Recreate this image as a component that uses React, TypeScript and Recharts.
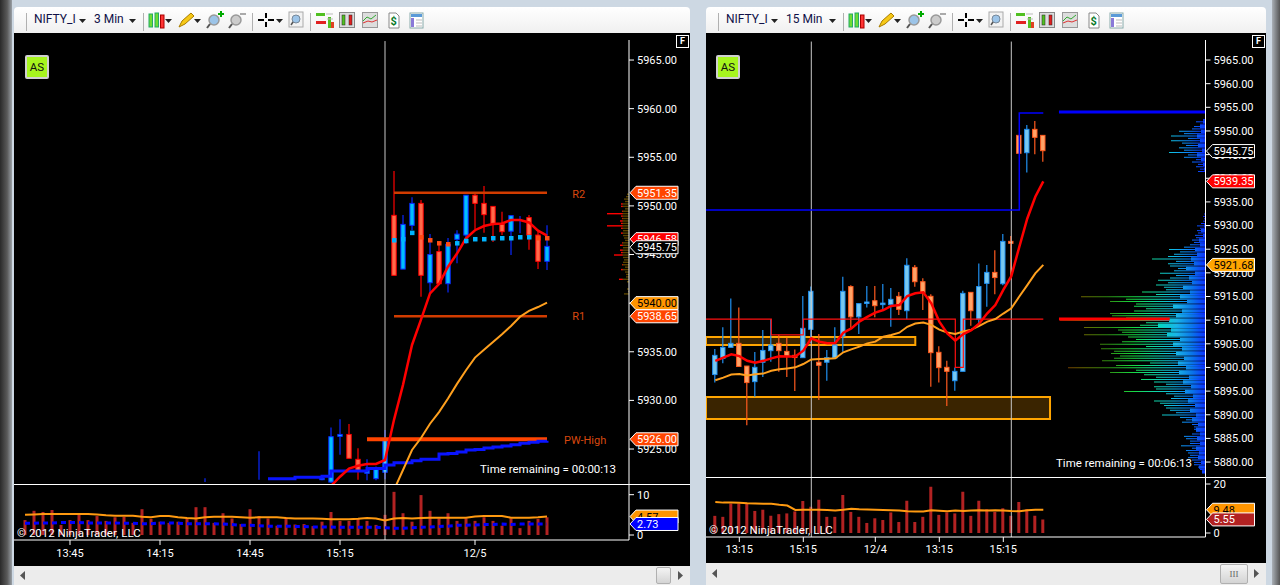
import {
  Bar,
  BarChart,
  ComposedChart,
  Line,
  ReferenceArea,
  ReferenceDot,
  ReferenceLine,
  XAxis,
  YAxis,
} from 'recharts'

const FONT = 'Roboto, sans-serif'

// ---- left panel, 3 min ----
const leftCandleIdx = [20, 26, 33, 34, 35, 36, 37, 38, 39, 40, 41, 42, 43, 44, 45, 46, 47, 48, 49, 50, 51, 52, 53, 54, 55, 56, 57, 58]
const leftOpen = [5921.8, 5921.9, 5921.9, 5921.6, 5926.3, 5926.5, 5923.94, 5922.5, 5921.95, 5922.6, 5949.03, 5943.5, 5948, 5950.26, 5942.1, 5945.3, 5942, 5946.56, 5947, 5951.1, 5950.26, 5949.95, 5948.1, 5947.4, 5948.6, 5948.8, 5947, 5944.3]
const leftClose = [5921.85, 5921.95, 5922, 5926.27, 5926.5, 5924.04, 5922.7, 5922.8, 5923, 5925.9, 5942.86, 5948.1, 5950.26, 5942.86, 5945, 5942, 5946.05, 5947.1, 5951.1, 5950.26, 5949.1, 5948.1, 5947.35, 5949, 5948.65, 5947, 5944.3, 5945.84]
const leftHigh = [5922, 5924.76, 5922.05, 5927.2, 5928.05, 5927.57, 5925.07, 5923.94, 5923.2, 5926.95, 5953.6, 5949.06, 5950.9, 5950.6, 5947.1, 5946.1, 5946.7, 5947.5, 5951.1, 5951.3, 5952.05, 5949.95, 5949.4, 5949, 5948.96, 5949.06, 5947.35, 5948]
const leftLow = [5921.6, 5921.85, 5921.8, 5921.5, 5924.4, 5924.04, 5921.85, 5921.8, 5921.8, 5921.9, 5942.86, 5943.5, 5947.5, 5940.66, 5941, 5942, 5941.1, 5944.1, 5946.1, 5947.6, 5947.25, 5946.3, 5947, 5944.95, 5947.2, 5945.5, 5943.5, 5943.4]

const leftFastStart = 34
const leftFast = [5921.2, 5922.15, 5922.98, 5923.28, 5923.46, 5923.46, 5923.87, 5928, 5931.6, 5935.7, 5938.3, 5941, 5941.97, 5943.75, 5945.1, 5946.66, 5947.5, 5947.93, 5948.14, 5948.2, 5948.55, 5948.55, 5948.3, 5947.45, 5946.94]
const leftSlowStart = 41
const leftSlow = [5920.8, 5922.84, 5924.9, 5926.13, 5927.6, 5928.8, 5930.2, 5931.7, 5933.1, 5934.4, 5935.2, 5936, 5936.8, 5937.65, 5938.6, 5939.2, 5939.6, 5940.06]
const leftBaseStart = 27
const leftBase = [5921.95, 5921.95, 5921.95, 5922.1, 5922.1, 5922.1, 5922.2, 5922.74, 5922.74, 5922.74, 5922.74, 5923, 5923, 5923.35, 5923.6, 5923.6, 5923.8, 5923.94, 5923.94, 5924.5, 5924.55, 5924.7, 5924.9, 5924.95, 5925.1, 5925.2, 5925.3, 5925.45, 5925.6, 5925.7, 5925.8, 5925.85]
const leftDotStart = 41
const leftDot = [5946.49, 5946.6, 5947.25, 5946.8, 5946.49, 5946.18, 5946.08, 5946.18, 5946.42, 5946.6, 5946.6, 5946.7, 5946.7, 5946.7, 5946.8, 5946.8, 5946.7, 5946.7]
const leftDotTrend = ['u', 'u', 'u', 'd', 'd', 'd', 'd', 'u', 'u', 'u', 'u', 'u', 'u', 'u', 'u', 'u', 'd', 'd']

const leftVolume = [3.7, 6, 5.7, 6.2, 2.5, 3.7, 5, 3.7, 4.7, 3.5, 4.4, 4.5, 3, 6.4, 4, 3.3, 3, 3.3, 4.1, 6.9, 6.9, 3, 5.4, 4.1, 2.7, 6.4, 4.7, 4.1, 2.3, 4.4, 2.6, 2.7, 2.2, 3.3, 5.7, 3.5, 3.5, 4.1, 3.5, 2.5, 5, 10.7, 5.4, 3.3, 9.9, 6, 4.1, 5.4, 3.5, 4.1, 3.5, 4.4, 3.5, 2.3, 4.1, 1.7, 3.5, 4, 4.4]
const leftVolSlow = [5, 5.1, 5.2, 5.2, 5.2, 5.2, 5.2, 5.2, 5.1, 4.9, 4.8, 4.8, 4.8, 4.5, 4.4, 4.7, 4.7, 4.4, 4.2, 4.1, 4.4, 4.5, 4.5, 4.5, 4.4, 4.3, 4.4, 4.4, 4.4, 4.2, 4.1, 4.1, 4.1, 4, 3.9, 3.9, 3.9, 4, 4.2, 4.1, 3.6, 4.1, 4.2, 4.1, 4.2, 4.3, 4.3, 4.3, 4.3, 4.3, 4.6, 4.7, 4.7, 4.7, 4.3, 4.3, 4.3, 4.4, 4.57]
const leftVolFast = [2.9, 2.9, 3, 3, 3.1, 3.1, 3.1, 3, 3, 3, 3, 2.9, 2.9, 2.8, 2.8, 3, 3, 2.9, 2.8, 2.8, 2.8, 2.8, 2.7, 2.6, 2.4, 2.4, 2.3, 2.2, 2.2, 2.2, 2.1, 2.1, 2, 2, 2, 1.9, 1.9, 1.9, 1.9, 1.9, 1.8, 1.7, 1.7, 1.8, 1.9, 2, 2.1, 2.2, 2.4, 2.4, 2.5, 2.6, 2.6, 2.7, 2.6, 2.7, 2.7, 2.7, 2.73]

const leftPriceTicks = [5965, 5960, 5955, 5950, 5945, 5940, 5935, 5930, 5925]
const leftTimeTicks = [5, 15, 25, 35, 50]
const leftTimeLabels = ['13:45', '14:15', '14:45', '15:15', '12/5']
const leftMiniPrices = [5951.25, 5951, 5950.75, 5950.5, 5950.25, 5950, 5949.75, 5949.5, 5949.25, 5949, 5948.75, 5948.5, 5948.25, 5948, 5947.75, 5947.5, 5947.25, 5947, 5946.75, 5946.5, 5946.25, 5946, 5945.75, 5945.5, 5945.25, 5945, 5944.75, 5944.5, 5944.25, 5944, 5943.75, 5943.5, 5943.25, 5943, 5942.75, 5942.5, 5942.25, 5942, 5941.75, 5941.5, 5941.25, 5941]
const leftMiniSize = [2, 3, 5, 4, 8, 8, 4, 7, 22, 8, 7, 9, 8, 22, 8, 6, 8, 6, 5, 4, 7, 9, 6, 9, 8, 15, 6, 5, 6, 7, 4, 8, 4, 3, 3, 10, 2, 0, 0, 2, 1, 5]

// ---- right panel, 15 min ----
const rightOpen = [5898.5, 5901.9, 5904.25, 5905.1, 5900.3, 5897, 5901.1, 5903.55, 5905.1, 5903.4, 5902.56, 5902.07, 5908.06, 5901.1, 5901.1, 5902, 5906.65, 5917.1, 5910.7, 5913.56, 5914.1, 5913.5, 5913.27, 5915.03, 5912, 5921.16, 5918.13, 5915.04, 5903.2, 5900.03, 5897.2, 5899.18, 5915.88, 5910.2, 5917.78, 5920.1, 5917.7, 5926.66, 5949.07, 5945.4, 5950.34, 5949.07]
const rightClose = [5902.56, 5904.25, 5905.1, 5900.2, 5896.8, 5900.03, 5903.6, 5904.75, 5903.55, 5902.4, 5902.1, 5908.27, 5916.1, 5900.45, 5902.07, 5904.75, 5916.1, 5910.7, 5913.5, 5913.84, 5913.06, 5913.6, 5914.4, 5912.28, 5921.6, 5918.13, 5915.8, 5903.13, 5899.96, 5899.18, 5899.18, 5915.67, 5912, 5917.1, 5920.1, 5919, 5926.66, 5926.24, 5945.27, 5950.34, 5948.65, 5945.83]
const rightHigh = [5903.9, 5908.5, 5914.6, 5912.7, 5900.3, 5903.27, 5907.9, 5910.2, 5906.9, 5906.3, 5903.8, 5915.1, 5917.1, 5907.1, 5903.7, 5908.5, 5919.2, 5917.4, 5913.5, 5917.2, 5917.2, 5917.64, 5916.8, 5915.95, 5923.1, 5921.66, 5918.84, 5915.5, 5904.5, 5901.4, 5900, 5916.2, 5915.88, 5922, 5921.66, 5924.8, 5928.2, 5927.8, 5949.07, 5951.25, 5952.1, 5949.07]
const rightLow = [5896.8, 5900.9, 5904.25, 5900.2, 5887.8, 5893.8, 5898, 5901.2, 5899.1, 5898, 5895, 5902.07, 5905.1, 5893.1, 5897.2, 5902, 5903.3, 5908.27, 5907.1, 5912.7, 5910.6, 5912.28, 5908.6, 5911.1, 5910.2, 5917.08, 5912.14, 5895.94, 5896.8, 5891.85, 5895.1, 5899.18, 5908.83, 5909, 5912.85, 5915.5, 5917.4, 5919.2, 5945.27, 5941.2, 5945.1, 5943.5]
const rightFast = [5901.4, 5902.07, 5902.77, 5902.4, 5901.4, 5901, 5901.4, 5901.93, 5902.35, 5902.3, 5902.3, 5903.55, 5906.16, 5905.45, 5905.1, 5905.17, 5907.35, 5908.27, 5909.7, 5910.7, 5911.6, 5912.14, 5913, 5913.2, 5915.1, 5915.67, 5915.88, 5913.56, 5909.7, 5907.2, 5905.67, 5907.07, 5907.9, 5909.3, 5911.44, 5913.2, 5916.4, 5919.3, 5925.5, 5931.5, 5936.1, 5939.35]
const rightSlow = [5897.3, 5897.84, 5898.5, 5898.6, 5898.3, 5898.55, 5898.7, 5899.3, 5899.6, 5899.8, 5900.03, 5900.73, 5901.7, 5901.8, 5901.86, 5901.93, 5903.2, 5903.83, 5904.4, 5905.1, 5905.45, 5906.5, 5906.86, 5907.35, 5908.6, 5909.3, 5909.5, 5909, 5908, 5907.4, 5907.07, 5907.6, 5908, 5908.8, 5909.7, 5910.24, 5911.4, 5912.5, 5915, 5917.4, 5919.9, 5921.68]
const rightVolume = [7, 6.6, 12, 12, 12, 9, 9.5, 7, 7.7, 8, 8.8, 13.1, 10.7, 13.6, 6.6, 6.6, 15.5, 8.6, 6.6, 4.1, 6, 5.3, 8.4, 4.5, 13.2, 4.5, 6.6, 18.9, 7.4, 8.4, 8, 16.8, 7, 13.2, 9.7, 8.6, 10.1, 7, 12.7, 9.7, 7, 5.55]
const rightVolSlow = [12.7, 12.4, 12.4, 12.3, 12.1, 12, 11.9, 11.9, 11.5, 11.2, 9.4, 9.5, 9.5, 9.5, 9.4, 9.2, 9.5, 9.9, 9.7, 9.6, 9.5, 9.4, 9.3, 9.2, 8.9, 8.8, 8.8, 9.3, 9.1, 8.9, 9.2, 9, 9.2, 9.3, 9.2, 9.3, 9.2, 9, 8.9, 9.3, 9.48, 9.48]
const rightSwingIdx = [-1.17, 38, 41]
const rightSwingHigh = [5933.3, 5953.8, 5953.8]
const rightPivotIdx = [-1.17, 7, 11, 30, 31, 41]
const rightPivot = [5910.2, 5906.9, 5910.2, 5900, 5910.2, 5910.2]
const rightPriceTicks = [5965, 5960, 5955, 5950, 5945, 5940, 5935, 5930, 5925, 5920, 5915, 5910, 5905, 5900, 5895, 5890, 5885, 5880]
const rightTimeTicks = [3, 11, 20, 28, 36]
const rightTimeLabels = ['13:15', '15:15', '12/4', '13:15', '15:15']

// volume at price, one row per half point from 5953 down to 5878
const profileSize = [
  0, 3, 10, 6, 12, 14, 27, 22, 35, 18, 35, 24, 20, 27, 22, 37, 18, 22, 10, 14, 8, 10, 6, 8, 0,
  0, 0, 0, 0, 0, 0, 0, 0, 0, 0, 0, 0, 0, 0, 0, 0,
  2, 3, 2, 3, 5, 9, 6, 9, 8, 11, 10, 14, 12, 16, 22, 37, 26, 32, 38, 54, 30, 38, 36, 28, 32, 46, 30, 36, 48, 38, 50, 42, 40, 64, 50,
  125, 80, 96, 70, 72, 60, 72, 96, 94, 80, 146, 60, 66, 122, 88, 84, 122, 78, 70, 84, 106, 60, 105, 92, 95, 86, 92, 104, 56, 90, 138,
  70, 96, 62, 50, 65, 52, 40, 52, 50, 82, 40, 32, 35, 52, 46, 42, 40, 36, 30, 44, 26, 20, 24, 14, 12, 12, 10, 14, 22, 20, 16, 16, 25, 14, 20, 18, 16, 18, 14, 12, 12, 8, 6, 4,
]
// solid core of the profile, one row per point from 5953 down to 5878
const profileCore = [
  0, 3, 6, 5, 9, 6, 8, 4, 9, 5, 3, 2, 0, 0, 0, 0, 0, 0, 0, 0, 0, 0, 1, 2, 5, 3, 7, 6, 11, 9, 15, 12, 20, 11, 17, 14, 23, 16, 26, 19, 33, 24, 30, 37, 48, 35, 39, 26, 33, 24, 30, 22, 28, 20, 27, 17, 23, 15, 21, 13, 18, 11, 16, 10, 14, 8, 10, 6, 9, 6, 10, 7, 8, 5, 7, 4,
]

const LEFT_X: [number, number] = [-1.222, 67.11]
const LEFT_Y: [number, number] = [5921.3, 5967.78]
const RIGHT_X: [number, number] = [-1.1625, 61.275]
const RIGHT_Y: [number, number] = [5876.63, 5970.71]
const LEFT_VOL_Y: [number, number] = [-1.24, 12.4]
const RIGHT_VOL_Y: [number, number] = [-1.63, 22.45]

const leftRows = leftVolume.map((volume, i) => {
  const c = leftCandleIdx.indexOf(i)
  return {
    i,
    volume,
    volSlow: leftVolSlow[i],
    volFast: leftVolFast[i],
    open: c < 0 ? null : leftOpen[c],
    close: c < 0 ? null : leftClose[c],
    high: c < 0 ? null : leftHigh[c],
    low: c < 0 ? null : leftLow[c],
    range: c < 0 ? null : [leftLow[c], leftHigh[c]],
    fast: leftFast[i - leftFastStart] ?? null,
    slow: leftSlow[i - leftSlowStart] ?? null,
    base: leftBase[i - leftBaseStart] ?? null,
    dot: leftDot[i - leftDotStart] ?? null,
    trend: leftDotTrend[i - leftDotStart] ?? null,
  }
})

const rightRows = rightVolume.map((volume, i) => ({
  i,
  volume,
  volSlow: rightVolSlow[i],
  open: rightOpen[i],
  close: rightClose[i],
  high: rightHigh[i],
  low: rightLow[i],
  range: [rightLow[i], rightHigh[i]],
  fast: rightFast[i],
  slow: rightSlow[i],
}))

const swingRows = rightSwingIdx.map((i, n) => ({ i, v: rightSwingHigh[n] }))
const pivotRows = rightPivotIdx.map((i, n) => ({ i, v: rightPivot[n] }))
const miniRows = leftMiniPrices.map((price, n) => ({ price, size: leftMiniSize[n] }))
const profileRows = profileSize.map((size, n) => ({ price: 5953 - n * 0.5, size }))
const coreRows = profileCore.map((size, n) => ({ price: 5953 - n, size }))

const LEFT_CANDLE = { up: '#00bfff', upLine: '#0a28ff', down: '#ff6a4a', downLine: '#ff0000' }
const RIGHT_CANDLE = { up: '#78c8f0', upLine: '#2090f0', down: '#ffa468', downLine: '#ff5a1e' }

function candleShape(colors: typeof LEFT_CANDLE) {
  return (props: any) => {
    const { x, y, width, height, payload } = props
    if (payload.open == null || height == null) return <g />
    const cx = x + width / 2
    const span = payload.high - payload.low || 1
    const toY = (v: number) => y + ((payload.high - v) / span) * height
    const up = payload.close >= payload.open
    const top = toY(Math.max(payload.open, payload.close))
    const bottom = toY(Math.min(payload.open, payload.close))
    const line = up ? colors.upLine : colors.downLine
    return (
      <g>
        <line x1={cx} x2={cx} y1={y} y2={y + height} stroke={line} strokeWidth={1.2} />
        {/* the oldest bars have no body worth drawing, only a wick */}
        {Math.abs(payload.close - payload.open) >= 0.08 && (
          <rect
            x={cx - 2.2}
            y={top}
            width={4.4}
            height={Math.max(bottom - top, 1.5)}
            fill={up ? colors.up : colors.down}
            stroke={line}
            strokeWidth={1}
          />
        )}
      </g>
    )
  }
}

function PriceTag({ cx, cy, value, fill, color, border = '#fff' }: any) {
  const x = cx + 1
  const w = 48
  return (
    <g>
      <path
        d={`M${x} ${cy} L${x + 6} ${cy - 6.5} L${x + w} ${cy - 6.5} L${x + w} ${cy + 6.5} L${x + 6} ${cy + 6.5} Z`}
        fill={fill}
        stroke={border}
        strokeWidth={1}
      />
      <text x={x + 7} y={cy + 4} fontSize={11} fontFamily={FONT} fill={color}>
        {value}
      </text>
    </g>
  )
}

function tag(xEnd: number, price: number, fill: string, color: string) {
  return (
    <ReferenceDot
      key={`${price}-${fill}`}
      x={xEnd}
      y={price}
      ifOverflow="visible"
      shape={(p: any) => <PriceTag {...p} value={price.toFixed(2)} fill={fill} color={color} />}
    />
  )
}

function note(x: number, price: number, text: string) {
  return (
    <ReferenceDot
      x={x}
      y={price}
      ifOverflow="visible"
      shape={(p: any) => (
        <text x={p.cx} y={p.cy + 4} fontSize={11} fontFamily={FONT} fill="#d9480f">
          {text}
        </text>
      )}
    />
  )
}

// tags sit in their own layer so they cover the tick labels, like the original
function TagLayer({ width, height, axisWidth, bottom = 0, xDomain, yDomain, children }: any) {
  return (
    <ComposedChart width={width} height={height} data={[{ i: 0 }]} margin={{ top: 0, right: axisWidth, bottom, left: 0 }}>
      <XAxis type="number" dataKey="i" domain={xDomain} allowDataOverflow hide />
      <YAxis type="number" domain={yDomain} allowDataOverflow hide />
      {children}
    </ComposedChart>
  )
}

const axisTick = { fill: '#fff', fontSize: 11, fontFamily: FONT }
const whiteLine = { stroke: '#fff' }

function LeftPrice() {
  return (
    <ComposedChart width={676} height={452} data={leftRows} margin={{ top: 0, right: 0, bottom: 0, left: 0 }}>
      <XAxis type="number" dataKey="i" domain={LEFT_X} allowDataOverflow hide />
      <YAxis
        orientation="right"
        width={61}
        type="number"
        domain={LEFT_Y}
        allowDataOverflow
        ticks={leftPriceTicks}
        tickFormatter={(v: number) => v.toFixed(2)}
        tick={axisTick}
        tickSize={5}
        tickMargin={3}
        axisLine={whiteLine}
        tickLine={whiteLine}
      />
      <ReferenceLine segment={[{ x: 40, y: 5966.95 }, { x: 40, y: LEFT_Y[0] }]} stroke="#c8c8c8" />
      <ReferenceLine segment={[{ x: 41, y: 5951.35 }, { x: 58, y: 5951.35 }]} stroke="#d23c00" strokeWidth={2.5} />
      <ReferenceLine segment={[{ x: 41, y: 5938.65 }, { x: 58, y: 5938.65 }]} stroke="#d23c00" strokeWidth={2.5} />
      <ReferenceLine segment={[{ x: 38, y: 5926 }, { x: 58, y: 5926 }]} stroke="#ff4500" strokeWidth={4} />
      <Line dataKey="base" type="stepAfter" stroke="#0a14ff" strokeWidth={3} dot={false} isAnimationActive={false} />
      <Bar dataKey="range" barSize={5} shape={candleShape(LEFT_CANDLE)} isAnimationActive={false} />
      <Line
        dataKey="dot"
        stroke="none"
        isAnimationActive={false}
        dot={(p: any) =>
          p.value == null ? (
            <g key={p.index} />
          ) : (
            <rect key={p.index} x={p.cx - 2} y={p.cy - 2} width={4.5} height={4.5} fill={p.payload.trend === 'u' ? '#00b4ff' : '#ff4b14'} />
          )
        }
      />
      <Line dataKey="fast" stroke="#ff0000" strokeWidth={2.5} dot={false} isAnimationActive={false} />
      <Line dataKey="slow" stroke="#ffa01e" strokeWidth={2} dot={false} isAnimationActive={false} />
      {note(60.8, 5951.2, 'R2')}
      {note(60.8, 5938.65, 'R1')}
      {note(59.9, 5925.9, 'PW-High')}
    </ComposedChart>
  )
}

function LeftVolume() {
  return (
    <ComposedChart width={676} height={80} data={leftRows} margin={{ top: 0, right: 0, bottom: 0, left: 0 }}>
      <XAxis
        type="number"
        dataKey="i"
        domain={LEFT_X}
        allowDataOverflow
        height={25}
        ticks={leftTimeTicks}
        tickFormatter={(v: number) => leftTimeLabels[leftTimeTicks.indexOf(v)]}
        tick={axisTick}
        tickSize={5}
        tickMargin={4}
        axisLine={whiteLine}
        tickLine={whiteLine}
      />
      <YAxis
        orientation="right"
        width={61}
        type="number"
        domain={LEFT_VOL_Y}
        allowDataOverflow
        ticks={[0, 10]}
        tick={axisTick}
        tickSize={5}
        tickMargin={3}
        axisLine={whiteLine}
        tickLine={whiteLine}
      />
      <ReferenceLine x={40} stroke="#c8c8c8" />
      <Bar dataKey="volume" barSize={3} fill="#b22222" isAnimationActive={false} />
      <Line dataKey="volFast" stroke="#0000ff" strokeWidth={3} strokeDasharray="5 4" dot={false} isAnimationActive={false} />
      <Line dataKey="volSlow" stroke="#ff9a10" strokeWidth={2} dot={false} isAnimationActive={false} />
    </ComposedChart>
  )
}

function RightPrice() {
  return (
    <ComposedChart width={560} height={445} data={rightRows} margin={{ top: 0, right: 0, bottom: 0, left: 0 }}>
      <XAxis type="number" dataKey="i" domain={RIGHT_X} allowDataOverflow hide />
      <YAxis
        orientation="right"
        width={60.5}
        type="number"
        domain={RIGHT_Y}
        allowDataOverflow
        ticks={rightPriceTicks}
        tickFormatter={(v: number) => v.toFixed(2)}
        tick={axisTick}
        tickSize={5}
        tickMargin={3}
        axisLine={whiteLine}
        tickLine={whiteLine}
      />
      <ReferenceArea x1={RIGHT_X[0]} x2={25} y1={5904.75} y2={5906.44} fill="#3a2400" fillOpacity={1} stroke="#ffa500" strokeWidth={2} ifOverflow="visible" />
      <ReferenceArea x1={RIGHT_X[0]} x2={41.84} y1={5889.1} y2={5893.75} fill="#3a2400" fillOpacity={1} stroke="#ffa500" strokeWidth={2} ifOverflow="visible" />
      <ReferenceLine segment={[{ x: 12, y: 5968.9 }, { x: 12, y: RIGHT_Y[0] }]} stroke="#c8c8c8" />
      <ReferenceLine segment={[{ x: 37, y: 5968.9 }, { x: 37, y: RIGHT_Y[0] }]} stroke="#c8c8c8" />
      <ReferenceLine segment={[{ x: 42.96, y: 5954 }, { x: RIGHT_X[1], y: 5954 }]} stroke="#0000ff" strokeWidth={3} />
      <ReferenceLine segment={[{ x: 42.96, y: 5910.25 }, { x: 56.8, y: 5910.25 }]} stroke="#ff0000" strokeWidth={3} />
      <Bar dataKey="range" barSize={5} shape={candleShape(RIGHT_CANDLE)} isAnimationActive={false} />
      <Line data={pivotRows} dataKey="v" type="stepAfter" stroke="#ff1010" strokeWidth={1.2} dot={false} isAnimationActive={false} />
      <Line data={swingRows} dataKey="v" type="stepAfter" stroke="#0000ff" strokeWidth={1.5} dot={false} isAnimationActive={false} />
      <Line dataKey="slow" stroke="#ffa01e" strokeWidth={2} dot={false} isAnimationActive={false} />
      <Line dataKey="fast" stroke="#ff0000" strokeWidth={2.5} dot={false} isAnimationActive={false} />
    </ComposedChart>
  )
}

function RightVolume() {
  return (
    <ComposedChart width={560} height={84} data={rightRows} margin={{ top: 0, right: 0, bottom: 0, left: 0 }}>
      <XAxis
        type="number"
        dataKey="i"
        domain={RIGHT_X}
        allowDataOverflow
        height={25}
        ticks={rightTimeTicks}
        tickFormatter={(v: number) => rightTimeLabels[rightTimeTicks.indexOf(v)]}
        tick={axisTick}
        tickSize={5}
        tickMargin={3}
        axisLine={whiteLine}
        tickLine={whiteLine}
      />
      <YAxis
        orientation="right"
        width={60.5}
        type="number"
        domain={RIGHT_VOL_Y}
        allowDataOverflow
        ticks={[0, 20]}
        tick={axisTick}
        tickSize={5}
        tickMargin={3}
        axisLine={whiteLine}
        tickLine={whiteLine}
      />
      <ReferenceLine x={12} stroke="#c8c8c8" />
      <ReferenceLine x={37} stroke="#c8c8c8" />
      <Bar dataKey="volume" barSize={3} fill="#b22222" isAnimationActive={false} />
      <Line dataKey="volSlow" stroke="#ff9a10" strokeWidth={2} dot={false} isAnimationActive={false} />
    </ComposedChart>
  )
}

// horizontal volume bars that grow leftwards from the price axis
function Profile({ rows, width, height, domain, barSize, id, stops }: any) {
  return (
    <BarChart layout="vertical" width={width} height={height} data={rows} margin={{ top: 0, right: 0, bottom: 0, left: 0 }}>
      <defs>
        <linearGradient id={id} gradientUnits="userSpaceOnUse" x1={width} x2={0} y1={0} y2={0}>
          {stops.map((s: [number, string]) => (
            <stop key={s[0]} offset={s[0]} stopColor={s[1]} />
          ))}
        </linearGradient>
      </defs>
      <XAxis type="number" domain={[0, width]} reversed hide />
      <YAxis type="number" dataKey="price" domain={domain} allowDataOverflow reversed hide width={0} />
      <Bar dataKey="size" barSize={barSize} fill={`url(#${id})`} isAnimationActive={false} />
    </BarChart>
  )
}

const PROFILE_STOPS = [
  [0, '#0a1eff'],
  [0.1, '#0a78ff'],
  [0.22, '#10b8e8'],
  [0.36, '#10d8a0'],
  [0.5, '#18d840'],
  [0.68, '#2f8a10'],
  [0.84, '#6a6a00'],
  [1, '#7a2a00'],
]
const CORE_STOPS = [
  [0, '#0a30ff'],
  [0.1, '#0a78e8'],
  [0.2, '#1ab4e8'],
  [0.32, '#00d8c0'],
  [1, '#00d8c0'],
]
const MINI_STOPS = [
  [0, '#5a4400'],
  [0.2, '#5a4400'],
  [0.24, '#ff0000'],
  [1, '#ff0000'],
]

function Icon({ x, kind }: { x: number; kind: string }) {
  const common = { position: 'absolute' as const, left: x, top: 3, width: 18, height: 20 }
  if (kind === 'candles')
    return (
      <svg style={common}>
        <rect x="1" y="4" width="3.5" height="13" fill="#6fdc32" stroke="#2a6" />
        <rect x="7" y="3" width="3.5" height="14" fill="#6fdc32" stroke="#2a6" />
        <rect x="12.5" y="5" width="3.5" height="13" fill="#f33" stroke="#a00" />
      </svg>
    )
  if (kind === 'pencil')
    return (
      <svg style={common}>
        <path d="M2 17 L5 11 L14 3 L17 6 L8 14 Z" fill="#f6c816" stroke="#a87c00" />
      </svg>
    )
  if (kind === 'zoomin' || kind === 'zoomout')
    return (
      <svg style={common}>
        <circle cx="8" cy="10" r="5" fill={kind === 'zoomin' ? '#9cc4e8' : '#ccc'} stroke="#999" strokeWidth="1.5" />
        <line x1="4" y1="14" x2="1" y2="18" stroke="#555" strokeWidth="2" />
        <path d={kind === 'zoomin' ? 'M12 4 H18 M15 1 V7' : 'M12 4 H18'} stroke={kind === 'zoomin' ? '#0a0' : '#aaa'} strokeWidth="2" />
      </svg>
    )
  if (kind === 'cross')
    return (
      <svg style={common}>
        <path d="M0 10 H6 M10 10 H16 M8 3 V8 M8 12 V17" stroke="#000" strokeWidth="2" />
      </svg>
    )
  if (kind === 'lens')
    return (
      <svg style={common}>
        <rect x="1" y="2" width="14" height="15" fill="#f2f2f2" stroke="#aaa" />
        <circle cx="8" cy="9" r="4" fill="#9cc4e8" stroke="#789" />
        <line x1="5" y1="12" x2="3" y2="15" stroke="#555" strokeWidth="1.5" />
      </svg>
    )
  if (kind === 'bars')
    return (
      <svg style={common}>
        <rect x="0" y="3" width="9" height="3" fill="#50c020" />
        <rect x="0" y="11" width="10" height="3" fill="#e02020" />
        <rect x="12" y="7" width="3" height="11" fill="#50c020" />
        <rect x="15" y="12" width="3" height="6" fill="#e04020" />
        <path d="M10 4 H17 M11 9 H17" stroke="#bbb" />
      </svg>
    )
  if (kind === 'boxed')
    return (
      <svg style={common}>
        <rect x="0.5" y="2.5" width="15" height="15" fill="#ddd" stroke="#888" />
        <rect x="3" y="5" width="3" height="10" fill="#50c020" stroke="#222" strokeWidth=".5" />
        <rect x="10" y="5" width="3" height="10" fill="#e02020" stroke="#222" strokeWidth=".5" />
      </svg>
    )
  if (kind === 'area')
    return (
      <svg style={common}>
        <rect x="0.5" y="2.5" width="15" height="15" fill="#ddd" stroke="#999" />
        <path d="M1 11 L5 7 L9 9 L14 5" stroke="#3a3" fill="none" />
        <path d="M1 13 L6 11 L10 12 L15 10" stroke="#d33" fill="none" />
      </svg>
    )
  if (kind === 'dollar')
    return (
      <svg style={common}>
        <path d="M2 3 H9 L12 6 V18 H2 Z" fill="#fff" stroke="#888" />
        <text x="3.5" y="15" fontSize="11" fontWeight="700" fontFamily={FONT} fill="#0a7a2a">
          $
        </text>
      </svg>
    )
  return (
    <svg style={common}>
      <rect x="1" y="3" width="13" height="15" fill="#fff" stroke="#8aa" />
      <rect x="2" y="4" width="11" height="3" fill="#5a9ad8" />
      <rect x="2" y="8" width="3" height="9" fill="#8a7ad8" />
      <path d="M7 10 H13 M7 13 H13 M7 16 H13" stroke="#bbb" />
    </svg>
  )
}

function Caret({ x }: { x: number }) {
  return (
    <svg style={{ position: 'absolute', left: x, top: 12, width: 7, height: 5 }}>
      <path d="M0 0 H7 L3.5 4 Z" fill="#222" />
    </svg>
  )
}

function Sep({ x }: { x: number }) {
  return <div style={{ position: 'absolute', left: x, top: 6, width: 1, height: 18, background: '#b0b0b0' }} />
}

function Toolbar({ left, width, period, shift }: any) {
  // shift: how far the longer period label pushes the later buttons
  const s = shift
  return (
    <div
      style={{
        position: 'absolute',
        left,
        top: 7,
        width,
        height: 26,
        background: 'linear-gradient(#ffffff, #f0f0f0)',
        borderRadius: '4px 4px 0 0',
        fontFamily: FONT,
        fontSize: 12,
        color: '#101048',
      }}
    >
      <Sep x={12} />
      <span style={{ position: 'absolute', left: 20, top: 5 }}>NIFTY_I</span>
      <Caret x={65} />
      <span style={{ position: 'absolute', left: 80, top: 5 }}>{period}</span>
      <Caret x={115 + s} />
      <Sep x={129 + s} />
      <Icon x={134 + s} kind="candles" />
      <Caret x={151 + s} />
      <Icon x={163 + s} kind="pencil" />
      <Caret x={180 + s} />
      <Icon x={192 + s} kind="zoomin" />
      <Icon x={214 + s} kind="zoomout" />
      <Sep x={238 + s} />
      <Icon x={244 + s} kind="cross" />
      <Caret x={262 + s} />
      <Icon x={274 + s} kind="lens" />
      <Sep x={296 + s} />
      <Icon x={302 + s} kind="bars" />
      <Icon x={325 + s} kind="boxed" />
      <Icon x={348 + s} kind="area" />
      <Icon x={373 + s} kind="dollar" />
      <Icon x={395 + s} kind="table" />
    </div>
  )
}

function AsButton({ left }: { left: number }) {
  return (
    <div
      style={{
        position: 'absolute',
        left,
        top: 55,
        width: 20,
        height: 20,
        background: '#a6f51e',
        border: '2px solid #d0d0d0',
        borderRadius: 2,
        textAlign: 'center',
        fontFamily: FONT,
        fontSize: 11.5,
        lineHeight: '20px',
        color: '#111',
      }}
    >
      AS
    </div>
  )
}

function FBox({ left }: { left: number }) {
  return (
    <div
      style={{
        position: 'absolute',
        left,
        top: 35,
        width: 11,
        height: 11,
        border: '1px solid #fff',
        color: '#fff',
        background: '#000',
        textAlign: 'center',
        fontFamily: FONT,
        fontSize: 9,
        fontWeight: 700,
        lineHeight: '11px',
      }}
    >
      F
    </div>
  )
}

function Caption({ x, y, text }: { x: number; y: number; text: string }) {
  return (
    <div style={{ position: 'absolute', left: x, top: y, color: '#fff', fontFamily: FONT, fontSize: 11.5, lineHeight: '13px', whiteSpace: 'nowrap' }}>
      {text}
    </div>
  )
}

function ScrollBar({ left, top, width, height, thumbLeft, thumbWidth }: any) {
  return (
    <div style={{ position: 'absolute', left, top, width, height, background: '#ececec' }}>
      <svg style={{ position: 'absolute', left: 6, top: height / 2 - 5, width: 6, height: 10 }}>
        <path d="M5 0 V9 L0 4.5 Z" fill="#555" />
      </svg>
      <svg style={{ position: 'absolute', left: width - 12, top: height / 2 - 5, width: 6, height: 10 }}>
        <path d="M0 0 V9 L5 4.5 Z" fill="#555" />
      </svg>
      <div style={{ position: 'absolute', left: thumbLeft, top: 1, width: thumbWidth, height: height - 2, background: 'linear-gradient(#f4f4f4,#d4d4d4)', border: '1px solid #b0b0b0', borderRadius: 2, boxSizing: 'border-box', textAlign: 'center', fontSize: 9, lineHeight: `${height - 4}px`, color: '#666' }}>
        {thumbWidth > 20 ? 'III' : ''}
      </div>
    </div>
  )
}

function abs(left: number, top: number) {
  return { position: 'absolute' as const, left, top }
}

export default function App() {
  return (
    <div style={{ position: 'absolute', left: 0, top: 0, width: 1280, height: 585, overflow: 'hidden', background: '#cdd8e3' }}>
      <div style={{ ...abs(0, 0), width: 12, height: 585, background: 'linear-gradient(90deg,#2a2a2a,#5a5a5a 60%,#9aa0a6)' }} />
      <div style={{ ...abs(1272, 0), width: 8, height: 585, background: 'linear-gradient(90deg,#aab0b6,#555)' }} />

      <div style={{ ...abs(14, 33), width: 676, height: 533, background: '#000' }} />
      <div style={{ ...abs(706, 33), width: 560, height: 530, background: '#000' }} />

      <Toolbar left={14} width={676} period="3 Min" shift={0} />
      <Toolbar left={706} width={560} period="15 Min" shift={8} />

      <div style={abs(600, 33)}>
        <Profile rows={miniRows} width={29} height={452} domain={LEFT_Y} barSize={1.4} id="miniFill" stops={MINI_STOPS} />
      </div>
      <div style={abs(14, 33)}>
        <LeftPrice />
      </div>
      <div style={{ ...abs(14, 484), width: 676, height: 1, background: '#fff' }} />
      <div style={abs(14, 485)}>
        <LeftVolume />
      </div>
      <div style={abs(14, 33)}>
        <TagLayer width={676} height={452} axisWidth={61} xDomain={LEFT_X} yDomain={LEFT_Y}>
          {tag(LEFT_X[1], 5951.35, '#ff4500', '#fff')}
          {tag(LEFT_X[1], 5946.58, '#ff0000', '#fff')}
          {tag(LEFT_X[1], 5945.75, '#000', '#fff')}
          {tag(LEFT_X[1], 5940, '#ff9500', '#000')}
          {tag(LEFT_X[1], 5938.65, '#ff4500', '#fff')}
          {tag(LEFT_X[1], 5926, '#ff4500', '#fff')}
        </TagLayer>
      </div>
      <div style={abs(14, 485)}>
        <TagLayer width={676} height={80} axisWidth={61} bottom={25} xDomain={LEFT_X} yDomain={LEFT_VOL_Y}>
          {tag(LEFT_X[1], 4.57, '#ff9500', '#000')}
          {tag(LEFT_X[1], 2.73, '#0000ff', '#fff')}
        </TagLayer>
      </div>

      <div style={abs(1059.5, 33)}>
        <Profile rows={profileRows} width={146} height={445} domain={RIGHT_Y} barSize={1} id="profileFill" stops={PROFILE_STOPS} />
      </div>
      <div style={abs(1059.5, 33)}>
        <Profile rows={coreRows} width={146} height={445} domain={RIGHT_Y} barSize={3.4} id="coreFill" stops={CORE_STOPS} />
      </div>
      <div style={abs(706, 33)}>
        <RightPrice />
      </div>
      <div style={{ ...abs(706, 477), width: 560, height: 1, background: '#fff' }} />
      <div style={abs(706, 478)}>
        <RightVolume />
      </div>
      <div style={abs(706, 33)}>
        <TagLayer width={560} height={445} axisWidth={60.5} xDomain={RIGHT_X} yDomain={RIGHT_Y}>
          {tag(RIGHT_X[1], 5945.75, '#000', '#fff')}
          {tag(RIGHT_X[1], 5939.35, '#ff0000', '#fff')}
          {tag(RIGHT_X[1], 5921.68, '#ffa500', '#000')}
        </TagLayer>
      </div>
      <div style={abs(706, 478)}>
        <TagLayer width={560} height={84} axisWidth={60.5} bottom={25} xDomain={RIGHT_X} yDomain={RIGHT_VOL_Y}>
          {tag(RIGHT_X[1], 9.48, '#ff9500', '#000')}
          {tag(RIGHT_X[1], 5.55, '#b22222', '#fff')}
        </TagLayer>
      </div>

      {/* price axes only start a little below the toolbar */}
      <div style={{ ...abs(628, 33), width: 3, height: 7, background: '#000' }} />
      <div style={{ ...abs(1204, 33), width: 3, height: 7, background: '#000' }} />

      <Caption x={480} y={463} text="Time remaining = 00:00:13" />
      <Caption x={1056} y={457} text="Time remaining = 00:06:13" />
      <Caption x={17} y={527} text="© 2012 NinjaTrader, LLC" />
      <Caption x={709} y={524} text="© 2012 NinjaTrader, LLC" />
      <AsButton left={25} />
      <AsButton left={716} />
      <FBox left={676} />
      <FBox left={1252} />

      <ScrollBar left={14} top={566} width={676} height={19} thumbLeft={642} thumbWidth={15} />
      <ScrollBar left={706} top={563} width={560} height={22} thumbLeft={514} thumbWidth={28} />
    </div>
  )
}
